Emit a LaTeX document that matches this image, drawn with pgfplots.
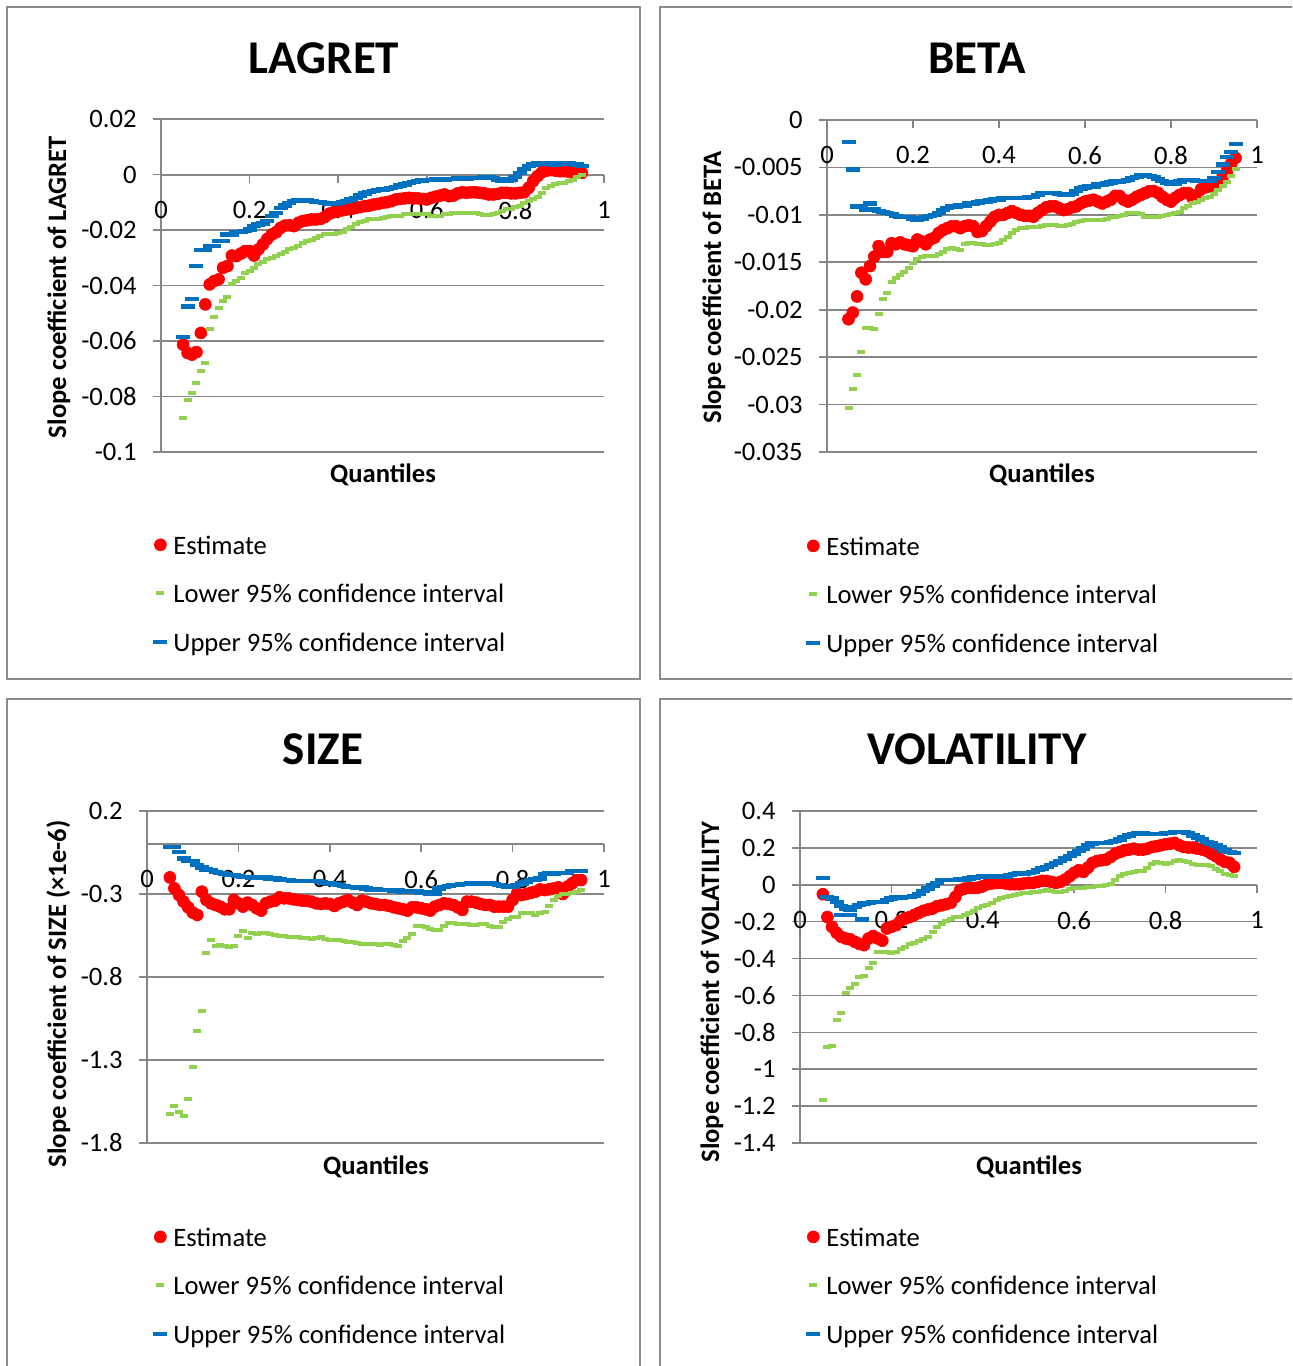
\documentclass[border=0pt]{standalone}
\usepackage{fontspec}
\setmainfont{Carlito}
\usepackage{pgfplots}
\usepackage{pgfplotstable}
\pgfplotsset{compat=1.18}
\definecolor{estred}{HTML}{FF0000}
\definecolor{lowgreen}{HTML}{92D050}
\definecolor{upblue}{HTML}{0070C0}
\definecolor{axgray}{HTML}{868686}
\definecolor{framegray}{HTML}{8C8C8C}
\newcommand\basefs{\fontsize{13.3pt}{16pt}\selectfont}
\newcommand\labfs{\fontsize{13.3pt}{16pt}\selectfont\bfseries}
\newcommand\titfs{\fontsize{23.5pt}{28pt}\selectfont\bfseries}

\pgfplotstableread{
q est low up
0.05 -0.0613 -0.0877 -0.0586
0.06 -0.0643 -0.0811 -0.0476
0.07 -0.0649 -0.0789 -0.0448
0.08 -0.0640 -0.0753 -0.0330
0.09 -0.0571 -0.0709 -0.0273
0.10 -0.0468 -0.0679 -0.0273
0.11 -0.0396 -0.0556 -0.0258
0.12 -0.0384 -0.0513 -0.0258
0.13 -0.0378 -0.0480 -0.0240
0.14 -0.0336 -0.0456 -0.0240
0.15 -0.0330 -0.0441 -0.0216
0.16 -0.0292 -0.0396 -0.0216
0.17 -0.0294 -0.0384 -0.0208
0.18 -0.0285 -0.0372 -0.0208
0.19 -0.0276 -0.0354 -0.0204
0.20 -0.0276 -0.0348 -0.0198
0.21 -0.0292 -0.0336 -0.0186
0.22 -0.0270 -0.0324 -0.0180
0.23 -0.0252 -0.0316 -0.0177
0.24 -0.0232 -0.0306 -0.0168
0.25 -0.0216 -0.0300 -0.0150
0.26 -0.0208 -0.0294 -0.0138
0.27 -0.0192 -0.0285 -0.0120
0.28 -0.0184 -0.0280 -0.0112
0.29 -0.0183 -0.0270 -0.0102
0.30 -0.0186 -0.0264 -0.0096
0.31 -0.0174 -0.0256 -0.0092
0.32 -0.0168 -0.0246 -0.0092
0.33 -0.0165 -0.0240 -0.0094
0.34 -0.0162 -0.0237 -0.0096
0.35 -0.0162 -0.0228 -0.0100
0.36 -0.0160 -0.0220 -0.0100
0.37 -0.0153 -0.0216 -0.0102
0.38 -0.0141 -0.0213 -0.0105
0.39 -0.0136 -0.0213 -0.0105
0.40 -0.0132 -0.0210 -0.0102
0.41 -0.0129 -0.0208 -0.0100
0.42 -0.0126 -0.0198 -0.0096
0.43 -0.0124 -0.0189 -0.0090
0.44 -0.0120 -0.0180 -0.0084
0.45 -0.0117 -0.0172 -0.0076
0.46 -0.0114 -0.0168 -0.0068
0.47 -0.0112 -0.0162 -0.0064
0.48 -0.0108 -0.0162 -0.0060
0.49 -0.0106 -0.0159 -0.0056
0.50 -0.0102 -0.0156 -0.0054
0.51 -0.0100 -0.0152 -0.0052
0.52 -0.0096 -0.0150 -0.0048
0.53 -0.0090 -0.0148 -0.0044
0.54 -0.0088 -0.0148 -0.0040
0.55 -0.0086 -0.0144 -0.0036
0.56 -0.0084 -0.0144 -0.0030
0.57 -0.0086 -0.0144 -0.0028
0.58 -0.0086 -0.0144 -0.0024
0.59 -0.0088 -0.0144 -0.0022
0.60 -0.0090 -0.0144 -0.0020
0.61 -0.0084 -0.0148 -0.0020
0.62 -0.0080 -0.0148 -0.0018
0.63 -0.0076 -0.0148 -0.0018
0.64 -0.0072 -0.0144 -0.0018
0.65 -0.0078 -0.0144 -0.0016
0.66 -0.0076 -0.0140 -0.0016
0.67 -0.0068 -0.0138 -0.0014
0.68 -0.0064 -0.0138 -0.0014
0.69 -0.0066 -0.0138 -0.0014
0.70 -0.0064 -0.0140 -0.0013
0.71 -0.0064 -0.0140 -0.0012
0.72 -0.0066 -0.0144 -0.0012
0.73 -0.0068 -0.0146 -0.0010
0.74 -0.0072 -0.0146 -0.0008
0.75 -0.0072 -0.0144 -0.0012
0.76 -0.0070 -0.0138 -0.0018
0.77 -0.0066 -0.0130 -0.0024
0.78 -0.0066 -0.0126 -0.0024
0.79 -0.0068 -0.0124 -0.0018
0.80 -0.0068 -0.0116 -0.0008
0.81 -0.0066 -0.0112 0.0006
0.82 -0.0064 -0.0102 0.0020
0.83 -0.0048 -0.0096 0.0030
0.84 -0.0024 -0.0088 0.0036
0.85 -0.0006 -0.0080 0.0040
0.86 0.0008 -0.0068 0.0042
0.87 0.0014 -0.0048 0.0042
0.88 0.0016 -0.0040 0.0040
0.89 0.0014 -0.0036 0.0036
0.90 0.0012 -0.0032 0.0038
0.91 0.0012 -0.0030 0.0040
0.92 0.0010 -0.0024 0.0040
0.93 0.0010 -0.0018 0.0038
0.94 0.0008 -0.0008 0.0036
0.95 0.0006 0.0000 0.0030
}\lagret

\pgfplotstableread{
q est low up
0.05 -0.0210 -0.0304 -0.0023
0.06 -0.0203 -0.0284 -0.0052
0.07 -0.0186 -0.0269 -0.0091
0.08 -0.0161 -0.0245 -0.0091
0.09 -0.0168 -0.0219 -0.0095
0.10 -0.0154 -0.0219 -0.0088
0.11 -0.0144 -0.0220 -0.0094
0.12 -0.0133 -0.0204 -0.0096
0.13 -0.0139 -0.0189 -0.0097
0.14 -0.0139 -0.0182 -0.0098
0.15 -0.0130 -0.0171 -0.0099
0.16 -0.0131 -0.0167 -0.0101
0.17 -0.0129 -0.0163 -0.0102
0.18 -0.0131 -0.0160 -0.0102
0.19 -0.0132 -0.0156 -0.0102
0.20 -0.0133 -0.0151 -0.0104
0.21 -0.0126 -0.0147 -0.0105
0.22 -0.0128 -0.0144 -0.0104
0.23 -0.0131 -0.0143 -0.0102
0.24 -0.0126 -0.0143 -0.0101
0.25 -0.0124 -0.0143 -0.0100
0.26 -0.0119 -0.0141 -0.0098
0.27 -0.0116 -0.0139 -0.0095
0.28 -0.0114 -0.0136 -0.0093
0.29 -0.0112 -0.0135 -0.0091
0.30 -0.0112 -0.0136 -0.0091
0.31 -0.0114 -0.0137 -0.0090
0.32 -0.0112 -0.0131 -0.0090
0.33 -0.0111 -0.0130 -0.0088
0.34 -0.0112 -0.0130 -0.0088
0.35 -0.0118 -0.0131 -0.0087
0.36 -0.0117 -0.0131 -0.0086
0.37 -0.0112 -0.0132 -0.0086
0.38 -0.0107 -0.0132 -0.0085
0.39 -0.0102 -0.0131 -0.0084
0.40 -0.0100 -0.0130 -0.0084
0.41 -0.0100 -0.0126 -0.0082
0.42 -0.0098 -0.0123 -0.0082
0.43 -0.0096 -0.0119 -0.0082
0.44 -0.0098 -0.0116 -0.0082
0.45 -0.0100 -0.0114 -0.0082
0.46 -0.0101 -0.0114 -0.0082
0.47 -0.0101 -0.0113 -0.0081
0.48 -0.0102 -0.0113 -0.0081
0.49 -0.0098 -0.0113 -0.0079
0.50 -0.0095 -0.0112 -0.0077
0.51 -0.0092 -0.0111 -0.0077
0.52 -0.0091 -0.0111 -0.0077
0.53 -0.0091 -0.0111 -0.0077
0.54 -0.0093 -0.0112 -0.0078
0.55 -0.0095 -0.0112 -0.0079
0.56 -0.0094 -0.0111 -0.0079
0.57 -0.0092 -0.0110 -0.0078
0.58 -0.0091 -0.0107 -0.0075
0.59 -0.0088 -0.0106 -0.0072
0.60 -0.0086 -0.0105 -0.0071
0.61 -0.0085 -0.0105 -0.0070
0.62 -0.0084 -0.0105 -0.0070
0.63 -0.0086 -0.0105 -0.0068
0.64 -0.0088 -0.0105 -0.0068
0.65 -0.0086 -0.0104 -0.0067
0.66 -0.0084 -0.0102 -0.0066
0.67 -0.0080 -0.0102 -0.0065
0.68 -0.0080 -0.0101 -0.0065
0.69 -0.0084 -0.0100 -0.0064
0.70 -0.0086 -0.0098 -0.0063
0.71 -0.0084 -0.0098 -0.0061
0.72 -0.0081 -0.0098 -0.0060
0.73 -0.0079 -0.0099 -0.0058
0.74 -0.0077 -0.0102 -0.0058
0.75 -0.0075 -0.0102 -0.0059
0.76 -0.0075 -0.0102 -0.0060
0.77 -0.0077 -0.0102 -0.0062
0.78 -0.0081 -0.0101 -0.0064
0.79 -0.0084 -0.0100 -0.0066
0.80 -0.0086 -0.0099 -0.0067
0.81 -0.0082 -0.0098 -0.0067
0.82 -0.0079 -0.0097 -0.0065
0.83 -0.0077 -0.0093 -0.0063
0.84 -0.0077 -0.0091 -0.0063
0.85 -0.0082 -0.0088 -0.0063
0.86 -0.0079 -0.0086 -0.0064
0.87 -0.0073 -0.0084 -0.0064
0.88 -0.0071 -0.0082 -0.0064
0.89 -0.0070 -0.0081 -0.0064
0.90 -0.0068 -0.0078 -0.0061
0.91 -0.0067 -0.0074 -0.0055
0.92 -0.0060 -0.0070 -0.0047
0.93 -0.0054 -0.0065 -0.0039
0.94 -0.0046 -0.0059 -0.0034
0.95 -0.0040 -0.0052 -0.0025
}\betatab

\pgfplotstableread{
q est low up
0.05 -0.200 -1.626 -0.016
0.06 -0.266 -1.580 -0.016
0.07 -0.306 -1.612 -0.046
0.08 -0.346 -1.636 -0.086
0.09 -0.380 -1.536 -0.100
0.10 -0.412 -1.340 -0.100
0.11 -0.426 -1.126 -0.126
0.12 -0.286 -1.006 -0.140
0.13 -0.336 -0.656 -0.152
0.14 -0.356 -0.576 -0.156
0.15 -0.366 -0.612 -0.166
0.16 -0.376 -0.606 -0.172
0.17 -0.392 -0.616 -0.180
0.18 -0.392 -0.620 -0.186
0.19 -0.336 -0.616 -0.186
0.20 -0.356 -0.552 -0.192
0.21 -0.376 -0.520 -0.196
0.22 -0.352 -0.566 -0.196
0.23 -0.366 -0.536 -0.200
0.24 -0.386 -0.540 -0.200
0.25 -0.400 -0.532 -0.200
0.26 -0.356 -0.536 -0.200
0.27 -0.346 -0.540 -0.206
0.28 -0.340 -0.546 -0.206
0.29 -0.320 -0.552 -0.212
0.30 -0.326 -0.552 -0.216
0.31 -0.326 -0.556 -0.216
0.32 -0.332 -0.560 -0.220
0.33 -0.336 -0.560 -0.220
0.34 -0.340 -0.566 -0.220
0.35 -0.342 -0.566 -0.220
0.36 -0.346 -0.572 -0.220
0.37 -0.356 -0.566 -0.220
0.38 -0.360 -0.556 -0.226
0.39 -0.356 -0.572 -0.232
0.40 -0.360 -0.580 -0.236
0.41 -0.372 -0.580 -0.240
0.42 -0.356 -0.580 -0.246
0.43 -0.346 -0.586 -0.252
0.44 -0.336 -0.592 -0.256
0.45 -0.352 -0.592 -0.256
0.46 -0.366 -0.596 -0.260
0.47 -0.340 -0.600 -0.260
0.48 -0.346 -0.600 -0.266
0.49 -0.356 -0.600 -0.272
0.50 -0.360 -0.600 -0.272
0.51 -0.366 -0.606 -0.276
0.52 -0.366 -0.600 -0.276
0.53 -0.372 -0.600 -0.276
0.54 -0.380 -0.606 -0.280
0.55 -0.386 -0.616 -0.280
0.56 -0.392 -0.586 -0.286
0.57 -0.400 -0.566 -0.286
0.58 -0.380 -0.540 -0.286
0.59 -0.380 -0.492 -0.286
0.60 -0.386 -0.492 -0.292
0.61 -0.392 -0.500 -0.292
0.62 -0.400 -0.512 -0.296
0.63 -0.376 -0.516 -0.296
0.64 -0.366 -0.516 -0.266
0.65 -0.356 -0.492 -0.256
0.66 -0.360 -0.476 -0.252
0.67 -0.366 -0.476 -0.246
0.68 -0.380 -0.480 -0.246
0.69 -0.396 -0.480 -0.240
0.70 -0.346 -0.480 -0.240
0.71 -0.346 -0.486 -0.236
0.72 -0.352 -0.486 -0.236
0.73 -0.360 -0.480 -0.232
0.74 -0.366 -0.480 -0.232
0.75 -0.366 -0.492 -0.236
0.76 -0.376 -0.500 -0.240
0.77 -0.376 -0.496 -0.246
0.78 -0.376 -0.466 -0.252
0.79 -0.376 -0.452 -0.256
0.80 -0.336 -0.440 -0.256
0.81 -0.296 -0.440 -0.246
0.82 -0.306 -0.416 -0.236
0.83 -0.300 -0.412 -0.226
0.84 -0.292 -0.412 -0.216
0.85 -0.286 -0.426 -0.212
0.86 -0.272 -0.416 -0.206
0.87 -0.276 -0.406 -0.180
0.88 -0.272 -0.372 -0.176
0.89 -0.266 -0.336 -0.176
0.90 -0.260 -0.312 -0.172
0.91 -0.300 -0.300 -0.172
0.92 -0.256 -0.300 -0.172
0.93 -0.236 -0.292 -0.160
0.94 -0.216 -0.286 -0.160
0.95 -0.216 -0.276 -0.160
}\sizetab

\pgfplotstableread{
q est low up
0.05 -0.051 -1.165 0.037
0.06 -0.175 -0.877 -0.066
0.07 -0.228 -0.873 -0.074
0.08 -0.260 -0.733 -0.092
0.09 -0.282 -0.693 -0.116
0.10 -0.291 -0.588 -0.128
0.11 -0.296 -0.561 -0.134
0.12 -0.309 -0.538 -0.119
0.13 -0.321 -0.502 -0.110
0.14 -0.327 -0.495 -0.101
0.15 -0.291 -0.453 -0.098
0.16 -0.278 -0.426 -0.094
0.17 -0.291 -0.363 -0.092
0.18 -0.303 -0.363 -0.092
0.19 -0.237 -0.363 -0.083
0.20 -0.228 -0.368 -0.074
0.21 -0.219 -0.363 -0.069
0.22 -0.195 -0.350 -0.069
0.23 -0.183 -0.336 -0.066
0.24 -0.175 -0.321 -0.066
0.25 -0.164 -0.314 -0.062
0.26 -0.152 -0.303 -0.051
0.27 -0.141 -0.296 -0.033
0.28 -0.134 -0.282 -0.021
0.29 -0.129 -0.255 -0.003
0.30 -0.116 -0.231 0.010
0.31 -0.111 -0.210 0.025
0.32 -0.105 -0.195 0.025
0.33 -0.098 -0.183 0.025
0.34 -0.066 -0.177 0.025
0.35 -0.030 -0.174 0.028
0.36 -0.021 -0.164 0.028
0.37 -0.017 -0.152 0.034
0.38 -0.017 -0.141 0.039
0.39 -0.015 -0.128 0.043
0.40 -0.008 -0.116 0.046
0.41 0.003 -0.111 0.046
0.42 0.007 -0.098 0.046
0.43 0.010 -0.083 0.046
0.44 0.010 -0.069 0.043
0.45 0.007 -0.066 0.046
0.46 0.003 -0.062 0.052
0.47 0.003 -0.057 0.057
0.48 0.003 -0.051 0.061
0.49 0.007 -0.047 0.061
0.50 0.010 -0.044 0.065
0.51 0.010 -0.040 0.070
0.52 0.016 -0.038 0.079
0.53 0.021 -0.033 0.088
0.54 0.021 -0.030 0.097
0.55 0.016 -0.033 0.106
0.56 0.010 -0.037 0.119
0.57 0.016 -0.038 0.129
0.58 0.028 -0.033 0.142
0.59 0.046 -0.024 0.155
0.60 0.065 -0.019 0.169
0.61 0.079 -0.017 0.184
0.62 0.070 -0.015 0.196
0.63 0.093 -0.012 0.214
0.64 0.119 -0.012 0.223
0.65 0.129 -0.008 0.227
0.66 0.133 -0.004 0.227
0.67 0.137 0.000 0.227
0.68 0.151 0.003 0.232
0.69 0.169 0.028 0.238
0.70 0.178 0.046 0.245
0.71 0.187 0.061 0.259
0.72 0.191 0.065 0.268
0.73 0.196 0.070 0.274
0.74 0.191 0.075 0.281
0.75 0.191 0.075 0.281
0.76 0.196 0.093 0.277
0.77 0.205 0.111 0.277
0.78 0.209 0.124 0.277
0.79 0.214 0.119 0.277
0.80 0.220 0.115 0.281
0.81 0.223 0.119 0.281
0.82 0.227 0.129 0.285
0.83 0.214 0.133 0.286
0.84 0.205 0.129 0.286
0.85 0.202 0.124 0.281
0.86 0.202 0.115 0.268
0.87 0.196 0.106 0.256
0.88 0.191 0.106 0.245
0.89 0.184 0.106 0.232
0.90 0.169 0.101 0.223
0.91 0.155 0.088 0.214
0.92 0.137 0.075 0.202
0.93 0.124 0.061 0.187
0.94 0.119 0.052 0.178
0.95 0.097 0.046 0.173
}\voltab

\pgfplotsset{
  panel/.style={
    scale only axis, clip=false,
    axis x line=middle, axis y line=left,
    axis line style={draw=axgray, line width=1pt, -},
    every inner x axis line/.append style={-},
    every outer y axis line/.append style={-},
    xmin=0, xmax=1,
    xtick={0,0.2,0.4,0.6,0.8,1}, xticklabels={0,0.2,0.4,0.6,0.8,1},
    hide obscured x ticks=false,
    scaled y ticks=false, scaled x ticks=false,
    ymajorgrids, grid style={draw=axgray, line width=0.8pt},
    major tick length=4pt,
    tick style={draw=axgray, line width=0.8pt},
    xtick align=outside, ytick align=outside,
    ticklabel style={font=\basefs},
    xticklabel style={anchor=north, inner sep=0pt, yshift=-9pt},
    yticklabel style={anchor=east, inner sep=0pt, xshift=-8pt},
    legend style={draw=none, fill=none, inner sep=0pt, font=\basefs, anchor=north west,
      nodes={inner sep=1pt, text height=9pt, text depth=2.5pt}, row sep=10.75pt,
      /tikz/every odd column/.append style={column sep=2pt}},
    legend cell align=left,
    legend image code/.code={\draw[#1] plot coordinates {(0pt,1.5pt)};},
  },
  est/.style={only marks, mark=*, mark size=3pt, color=estred, mark options={fill=estred, draw=estred, line width=0.3pt}},
  low/.style={only marks, mark=-, mark size=2pt, color=lowgreen, mark options={line width=2pt}},
  upp/.style={only marks, mark=-, mark size=3.5pt, color=upblue, mark options={line width=2.2pt}},
}

\begin{document}
\begin{tikzpicture}
\path[use as bounding box] (0,0) rectangle (646pt,-683pt);
\clip (0,0) rectangle (646pt,-683pt);
\fill[white] (0,0) rectangle (646pt,-683pt);
\draw[framegray, line width=0.9pt] (3.5pt,-3.5pt) rectangle (320pt,-339.5pt);
\draw[framegray, line width=0.9pt] (330pt,-3.5pt) rectangle (660pt,-339.5pt);
\draw[framegray, line width=0.9pt] (3.5pt,-349.5pt) rectangle (320pt,-700pt);
\draw[framegray, line width=0.9pt] (330pt,-349.5pt) rectangle (660pt,-700pt);

% LAGRET
\begin{axis}[panel, at={(80.5pt,-59.5pt)}, anchor=north west, width=221.5pt, height=166.5pt,
  ymin=-0.1, ymax=0.02, ytick={-0.1,-0.08,-0.06,-0.04,-0.02,0,0.02},
  yticklabels={-0.1,-0.08,-0.06,-0.04,-0.02,0,0.02},
  legend style={at={(-0.018,-0.246)}}]
\addplot[est] table[x=q,y=est]{\lagret};
\addplot[low] table[x=q,y=low]{\lagret};
\addplot[upp] table[x=q,y=up]{\lagret};
\legend{Estimate, Lower 95\% confidence interval, Upper 95\% confidence interval}
\end{axis}

% BETA
\begin{axis}[panel, at={(413.5pt,-60pt)}, anchor=north west, width=215pt, height=166pt,
  ymin=-0.035, ymax=0, ytick={-0.035,-0.03,-0.025,-0.02,-0.015,-0.01,-0.005,0},
  yticklabels={-0.035,-0.03,-0.025,-0.02,-0.015,-0.01,-0.005,0},
  legend style={at={(-0.049,-0.25)}}]
\addplot[est] table[x=q,y=est]{\betatab};
\addplot[low] table[x=q,y=low]{\betatab};
\addplot[upp] table[x=q,y=up]{\betatab};
\legend{Estimate, Lower 95\% confidence interval, Upper 95\% confidence interval}
\end{axis}

% SIZE
\begin{axis}[panel, at={(73.5pt,-405.5pt)}, anchor=north west, width=228.5pt, height=166pt,
  ymin=-1.8, ymax=0.2, ytick={-1.8,-1.3,-0.8,-0.3,0.2},
  yticklabels={-1.8,-1.3,-0.8,-0.3,0.2},
  legend style={at={(0.013,-0.25)}}]
\addplot[est] table[x=q,y=est]{\sizetab};
\addplot[low] table[x=q,y=low]{\sizetab};
\addplot[upp] table[x=q,y=up]{\sizetab};
\legend{Estimate, Lower 95\% confidence interval, Upper 95\% confidence interval}
\end{axis}

% VOLATILITY
\begin{axis}[panel, at={(400pt,-405.5pt)}, anchor=north west, width=228.5pt, height=166pt,
  ymin=-1.4, ymax=0.4, ytick={-1.4,-1.2,-1,-0.8,-0.6,-0.4,-0.2,0,0.2,0.4},
  yticklabels={-1.4,-1.2,-1,-0.8,-0.6,-0.4,-0.2,0,0.2,0.4},
  legend style={at={(0.013,-0.25)}}]
\addplot[est] table[x=q,y=est]{\voltab};
\addplot[low] table[x=q,y=low]{\voltab};
\addplot[upp] table[x=q,y=up]{\voltab};
\addplot[upp, forget plot] coordinates {(0.09,-0.165) (0.11,-0.165) (0.135,-0.188)};
\legend{Estimate, Lower 95\% confidence interval, Upper 95\% confidence interval}
\end{axis}

\node[font=\titfs, anchor=base] at (162pt,-36.5pt) {LAGRET};
\node[font=\titfs, anchor=base] at (488.5pt,-36.5pt) {BETA};
\node[font=\titfs, anchor=base] at (161.5pt,-382pt) {SIZE};
\node[font=\titfs, anchor=base] at (488.5pt,-382pt) {VOLATILITY};
\node[font=\labfs, anchor=base] at (191.5pt,-241pt) {Quantiles};
\node[font=\labfs, anchor=base] at (521pt,-241pt) {Quantiles};
\node[font=\labfs, anchor=base] at (188pt,-587pt) {Quantiles};
\node[font=\labfs, anchor=base] at (514.5pt,-587pt) {Quantiles};
\node[font=\labfs, anchor=base, rotate=90] at (33pt,-143.5pt) {Slope coefficient of LAGRET};
\node[font=\labfs, anchor=base, rotate=90] at (360.5pt,-143.75pt) {Slope coefficient of BETA};
\node[font=\labfs, anchor=base, rotate=90] at (33pt,-497pt) {Slope coefficient of SIZE (×1e-6)};
\node[font=\labfs, anchor=base, rotate=90] at (359.5pt,-496pt) {Slope coefficient of VOLATILITY};
\end{tikzpicture}
\end{document}
